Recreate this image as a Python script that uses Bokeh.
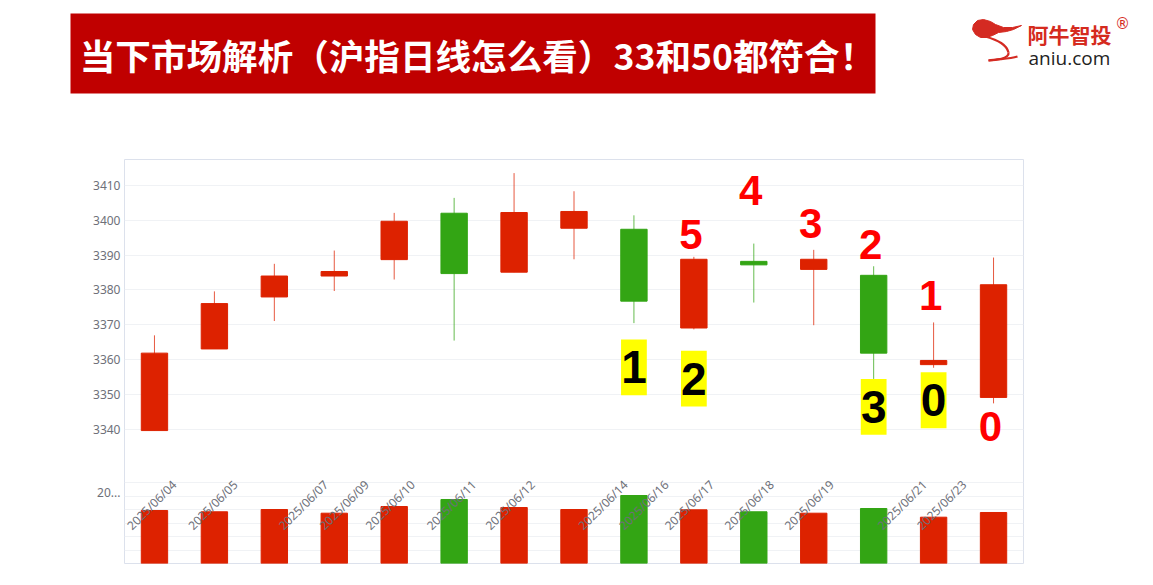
import math
from bokeh.plotting import figure
from bokeh.layouts import column
from bokeh.models import Range1d, FixedTicker, Grid
from bokeh.core.properties import value
from bokeh.embed import file_html
from bokeh.resources import INLINE

# ---------------- data ----------------
title_text = "当下市场解析（沪指日线怎么看）33和50都符合！"

open_ = [3339.7, 3363.1, 3378.0, 3384.0, 3388.7, 3402.0, 3385.1, 3397.7,
         3397.4, 3369.1, 3388.2, 3385.9, 3384.2, 3358.6, 3349.2]
close = [3361.9, 3376.1, 3384.0, 3385.3, 3399.7, 3384.7, 3402.2, 3402.5,
         3376.8, 3388.8, 3387.2, 3388.8, 3361.9, 3359.8, 3381.5]
high = [3367.0, 3379.6, 3387.5, 3391.3, 3402.1, 3406.4, 3413.5, 3408.3,
        3401.4, 3389.5, 3393.3, 3391.5, 3386.8, 3370.7, 3389.3]
low = [3339.7, 3363.1, 3371.1, 3379.7, 3383.0, 3365.5, 3385.1, 3388.8,
       3370.5, 3368.7, 3376.4, 3369.9, 3354.5, 3357.7, 3347.5]
volume = [3926, 3830, 4000, 3726, 4222, 4741, 4148, 4000,
          5037, 3978, 3830, 3726, 4074, 3430, 3778]

date_labels = ["2025/06/04", "2025/06/05", "2025/06/07", "2025/06/09",
               "2025/06/10", "2025/06/11", "2025/06/12", "2025/06/14",
               "2025/06/16", "2025/06/17", "2025/06/18", "2025/06/19",
               "2025/06/21", "2025/06/23"]
date_label_pos = [0.33, 1.35, 2.86, 3.54, 4.31, 5.33, 6.31, 7.86,
                  8.54, 9.30, 10.30, 11.30, 12.85, 13.51]

price_ticks = [3340, 3350, 3360, 3370, 3380, 3390, 3400, 3410]
volume_ticks = [1000, 2000, 3000, 4000, 5000, 6000]
vol_axis_tick = 3322
vol_axis_text = "20..."

red_marks = ["5", "4", "3", "2", "1", "0"]
red_idx = [9, 10, 11, 12, 13, 14]
red_y = [3395.9, 3408.6, 3399.1, 3393.1, 3378.4, 3340.9]

box_marks = ["1", "2", "3", "0"]
box_idx = [8, 9, 12, 13]
box_y = [3357.8, 3354.6, 3346.5, 3348.4]

# ---------------- styles ----------------
RED = "#DD2200"
GREEN = "#33A514"
AXIS_GREY = "#6E7079"
GRID = "#F0F2F5"
W = 1140

n = len(open_)
xs = list(range(n))
up = [c >= o for o, c in zip(open_, close)]
colors = [RED if u else GREEN for u in up]
body_top = [max(o, c) for o, c in zip(open_, close)]
body_bot = [min(o, c) for o, c in zip(open_, close)]

# ---------------- header ----------------
h = figure(width=W, height=148, x_range=Range1d(0, W), y_range=Range1d(148, 0),
           x_axis_type=None, y_axis_type=None, toolbar_location=None,
           output_backend="svg", min_border=0, outline_line_color=None)
h.frame_align = False
h.grid.visible = False
h.quad(left=[70], right=[875], top=[13], bottom=[93], fill_color="#C00000", line_color=None)
h.text(x=[477], y=[54], text=[title_text], text_align="center", text_baseline="middle",
       text_color="white", text_font=value("Noto Sans CJK SC"), text_font_style="bold",
       text_font_size="35.6px")

# logo swirl
h.patch(x=[1021, 1012, 1003, 995, 990, 983, 977, 973, 972, 975, 980, 986, 992, 998, 1006, 1013, 1021],
        y=[25, 27, 27, 24, 21, 19, 20, 24, 29, 34, 37, 37, 35, 32, 31, 29, 25],
        fill_color="#D42A22", line_color="#D42A22", line_width=1)
h.bezier(x0=[985, 1008, 988], y0=[36, 52, 60], x1=[1008, 988, 1017], y1=[52, 60, 56],
         cx0=[998, 1009, 998], cy0=[40, 58, 58], cx1=[1006, 995, 1008], cy1=[44, 60, 59],
         line_color="#D42A22", line_width=2.2)
h.text(x=[1027], y=[33], text=["阿牛智投"], text_align="left", text_baseline="middle",
       text_color="#D52B1E", text_font=value("Noto Sans CJK SC"), text_font_style="bold",
       text_font_size="21px")
h.text(x=[1122], y=[23], text=["®"], text_align="center", text_baseline="middle",
       text_color="#D52B1E", text_font=value("DejaVu Sans"), text_font_size="15px")
h.text(x=[1028], y=[57], text=["aniu.com"], text_align="left", text_baseline="middle",
       text_color="#222222", text_font=value("Open Sans"), text_font_size="19px")

# ---------------- chart ----------------
p = figure(width=W, height=429, x_range=Range1d(-0.5, 14.5),
           y_range=Range1d(3301.6, 3417.4), toolbar_location=None,
           output_backend="svg", min_border_left=124, min_border_right=W - 1023,
           min_border_top=11, min_border_bottom=14, x_axis_type=None)
p.frame_align = False
p.extra_y_ranges = {"vol": Range1d(0, 29926)}
p.outline_line_color = "#DCE1EC"
p.outline_line_width = 1
p.background_fill_color = "white"
p.border_fill_color = "white"

p.xgrid.visible = False
p.ygrid.ticker = FixedTicker(ticks=price_ticks)
p.ygrid.grid_line_color = GRID
p.yaxis.ticker = FixedTicker(ticks=price_ticks + [vol_axis_tick])
p.yaxis.major_label_overrides = {vol_axis_tick: vol_axis_text}
p.yaxis.axis_line_color = None
p.yaxis.major_tick_line_color = None
p.yaxis.minor_tick_line_color = None
p.yaxis.major_tick_out = 0
p.yaxis.major_label_standoff = 4
p.yaxis.major_label_text_color = AXIS_GREY
p.yaxis.major_label_text_font = "Noto Sans"
p.yaxis.major_label_text_font_size = "12px"

vgrid = Grid(dimension=1, ticker=FixedTicker(ticks=volume_ticks), y_range_name="vol",
             grid_line_color=GRID)
p.add_layout(vgrid)

# volume bars
p.vbar(x=xs, top=volume, bottom=0, width=0.44, fill_color=colors, line_color=colors,
       y_range_name="vol")

# candles
p.segment(x0=xs, y0=high, x1=xs, y1=low, line_color=colors, line_width=1, line_alpha=0.75)
p.vbar(x=xs, top=body_top, bottom=body_bot, width=0.44, fill_color=colors, line_color=colors,
       line_width=1)

# date labels
p.text(x=date_label_pos, y=[6000] * len(date_labels), text=date_labels,
       angle=math.pi / 4, text_align="right", text_baseline="middle",
       text_color=AXIS_GREY, text_font=value("Noto Sans"), text_font_size="12px",
       y_range_name="vol")

# annotations
p.rect(x=box_idx, y=box_y, width=0.43, height=16.0, fill_color="#FFFF00", line_color=None)
p.text(x=box_idx, y=box_y, text=box_marks, text_align="center", text_baseline="middle",
       text_color="black", text_font=value("Liberation Sans"), text_font_style="bold",
       text_font_size="46px")
p.text(x=red_idx, y=red_y, text=red_marks, text_align="center", text_baseline="middle",
       text_color="#FF0000", text_font=value("Liberation Sans"), text_font_style="bold",
       text_font_size="42px", x_offset=-3)

layout = column(h, p, spacing=0)
open("out.html", "w").write(file_html(layout, INLINE))
